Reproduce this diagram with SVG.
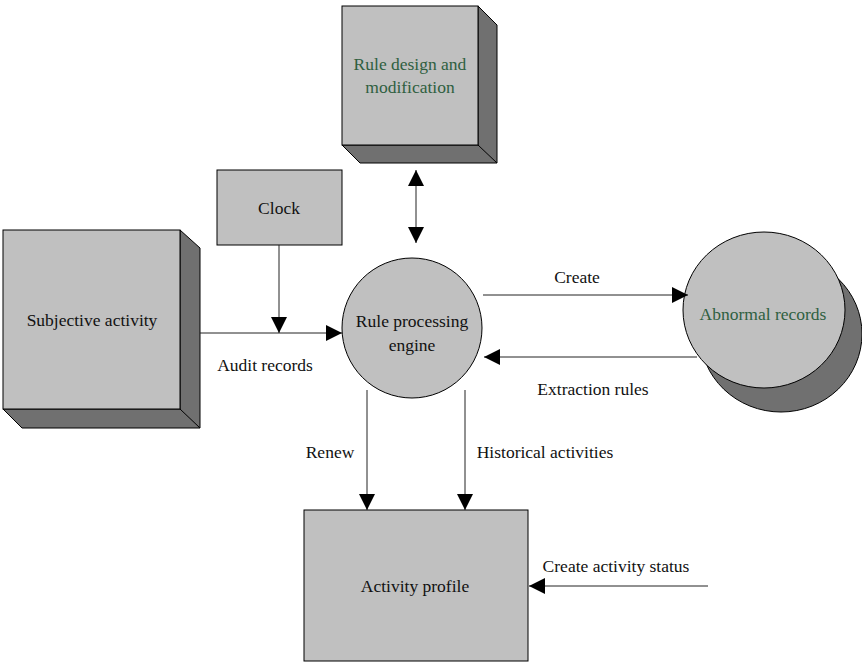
<svg xmlns="http://www.w3.org/2000/svg" width="862" height="662" viewBox="0 0 862 662">
<style>
.face{fill:#C0C0C0;stroke:#000;stroke-width:1}
.side{fill:#707070;stroke:#000;stroke-width:1}
text{font-family:'Liberation Serif','Times New Roman',serif;font-size:17.5px;fill:#111;text-anchor:middle}
.g{fill:#2F5F3F}
.c{stroke:#222;stroke-width:1;fill:none}
</style>
<defs>
<marker id="b" viewBox="0 0 10 10" refX="10" refY="5" markerWidth="20" markerHeight="16" markerUnits="userSpaceOnUse" orient="auto-start-reverse">
<path d="M0,0 L10,5 L0,10 Z" fill="#000"/>
</marker>
</defs>
<g id="rule-design">
<polygon class="side" points="478,6 497,25 497,163 360,163 342,145 478,145"/>
<line x1="478" y1="145" x2="497" y2="163" stroke="#000"/>
<rect class="face" x="342" y="6" width="136" height="139"/>
<text class="g" x="410" y="70">Rule design and</text>
<text class="g" x="410" y="93">modification</text>
</g>
<g id="clock">
<rect class="face" x="217" y="170" width="125" height="75"/>
<text x="279" y="214">Clock</text>
</g>
<g id="subjective-activity">
<polygon class="side" points="180,230 200,248 200,428 22,428 3,409 180,409"/>
<line x1="180" y1="409" x2="200" y2="428" stroke="#000"/>
<rect class="face" x="3" y="230" width="177" height="179"/>
<text x="92" y="326">Subjective activity</text>
</g>
<g id="rule-engine">
<circle class="face" cx="412" cy="328" r="70"/>
<text x="412" y="327">Rule processing</text>
<text x="412" y="351">engine</text>
</g>
<g id="abnormal-records">
<ellipse class="side" cx="781" cy="334" rx="81" ry="78"/>
<ellipse class="face" cx="764" cy="310" rx="81" ry="78"/>
<text class="g" x="763" y="320">Abnormal records</text>
</g>
<g id="activity-profile">
<rect class="face" x="304" y="510" width="224" height="151"/>
<text x="415" y="592">Activity profile</text>
</g>
<g id="connectors">
<line class="c" x1="416" y1="170" x2="416" y2="243" marker-start="url(#b)" marker-end="url(#b)"/>
<line class="c" x1="279" y1="245" x2="279" y2="333" marker-end="url(#b)"/>
<line class="c" x1="200" y1="333" x2="342" y2="333" marker-end="url(#b)"/>
<line class="c" x1="483" y1="295" x2="688" y2="295" marker-end="url(#b)"/>
<line class="c" x1="697" y1="357" x2="484" y2="357" marker-end="url(#b)"/>
<line class="c" x1="367" y1="390" x2="367" y2="510" marker-end="url(#b)"/>
<line class="c" x1="465" y1="390" x2="465" y2="510" marker-end="url(#b)"/>
<line class="c" x1="708" y1="586" x2="529" y2="586" marker-end="url(#b)"/>
</g>
<g id="labels">
<text x="265" y="371">Audit records</text>
<text x="577" y="283">Create</text>
<text x="593" y="395">Extraction rules</text>
<text x="330" y="458">Renew</text>
<text x="545" y="458">Historical activities</text>
<text x="616" y="572">Create activity status</text>
</g>
</svg>
